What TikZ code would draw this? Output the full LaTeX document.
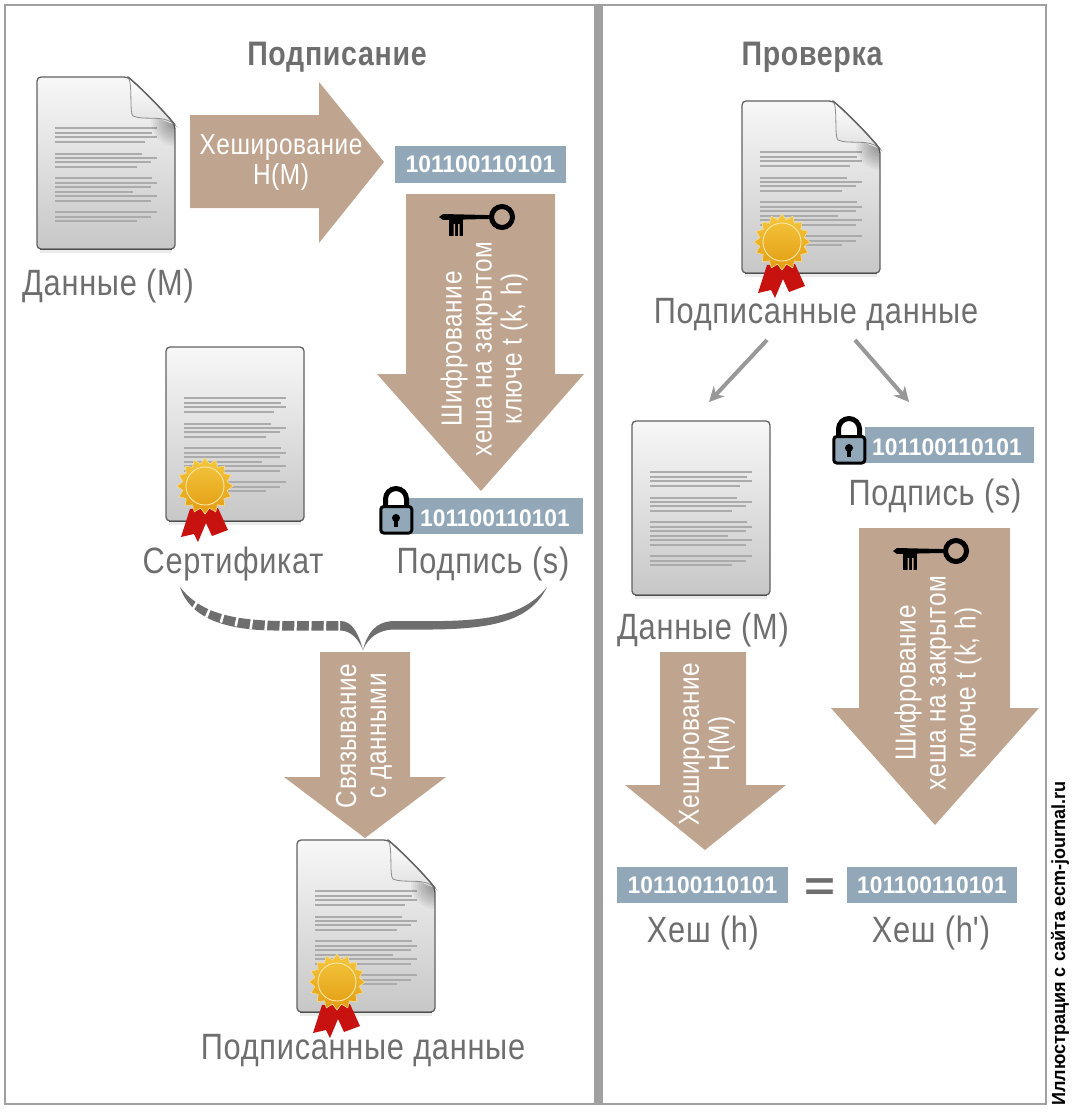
\documentclass[tikz,border=0pt]{standalone}
\usepackage{fontspec}
\setmainfont[FakeStretch=0.84,LetterSpace=2]{Liberation Sans}
\newfontfamily\digitfont[FakeStretch=0.95]{Liberation Sans}
\newfontfamily\sidefont[FakeStretch=0.95]{Liberation Sans}
\usepackage{tikz}
\usetikzlibrary{shapes.geometric,arrows.meta}
\definecolor{ink}{HTML}{6E6E6E}
\definecolor{tan}{HTML}{BFA58F}
\definecolor{slate}{HTML}{92A8B8}
\definecolor{frame}{HTML}{A0A0A0}
\definecolor{goldtop}{HTML}{F4C73E}
\definecolor{goldlow}{HTML}{E29C12}
\definecolor{ribbon}{HTML}{C8120F}
\tikzstyle{caption}=[text=ink,font=\fontsize{36.6}{40}\selectfont,inner sep=0pt]
\tikzstyle{heading}=[text=ink,font=\fontsize{34}{38}\selectfont\bfseries,inner sep=0pt]
\tikzstyle{inarrow}=[text=white,font=\fontsize{29}{30}\selectfont,align=center,inner sep=0pt]
\tikzstyle{bigarrow}=[fill=tan]
\tikzstyle{hash}=[fill=slate,text=white,font=\fontsize{24}{24}\digitfont\bfseries,inner sep=0pt,minimum height=37pt]
\tikzstyle{hashtext}=[text=white,font=\fontsize{24}{24}\digitfont\bfseries,inner sep=0pt]
\tikzstyle{textline}=[draw=black!33,line width=1.1pt]
\tikzstyle{split}=[draw=frame!95!black,line width=4pt,-{Stealth[length=15pt,width=15pt]}]

% body lines of a sheet
\newcommand{\sheetlines}{
	\foreach \ly/\lx in {51/120,56/115,60/120,65/108,77/105,81/120,85/114,90/100,101/115,106/120,110/114,115/96,119/120,124/114,135/120,140/114,144/100}
		\draw[textline] (18,\ly) -- (\lx,\ly);
}
\newcommand{\foldsheet}[2]{
	\begin{scope}[shift={(#1,#2)}]
		\fill[black!8] (3,160) rectangle (135,176);
		\shade[top color=black!3,bottom color=black!22,draw=black!62,line width=1.3pt,rounded corners=4pt]
			(0,0) -- (91,0) .. controls (105,12) and (125,32) .. (138,48) -- (138,172) -- (0,172) -- cycle;
		\sheetlines
		\begin{scope}
			\clip (95,30) -- (137.5,48) -- (137.5,90) -- (95,90) -- cycle;
			\foreach \rr in {2,4,...,24}
				\fill[black,opacity=.035] (138,45) circle (\rr);
		\end{scope}
		\shade[top color=white,bottom color=black!12,draw=black!45,line width=0.8pt] (91,0) .. controls (96,6) and (92,36) .. (96,39) .. controls (106,44) and (128,37) .. (138,48) .. controls (125,32) and (105,12) .. (91,0) -- cycle;
		\draw[black!62,line width=1.3pt] (91,0) .. controls (105,12) and (125,32) .. (138,48);
		\draw[black!70,line width=1.6pt] (3,172.5) -- (135,172.5);
	\end{scope}
}
\newcommand{\plainsheet}[2]{
	\begin{scope}[shift={(#1,#2)}]
		\fill[black!8] (3,160) rectangle (135,178);
		\shade[top color=black!3,bottom color=black!22,draw=black!62,line width=1.3pt,rounded corners=4pt]
			(0,0) rectangle (138,174);
		\draw[black!70,line width=1.6pt] (3,174.5) -- (135,174.5);
		\sheetlines
	\end{scope}
}
\newcommand{\seal}[3]{
	\begin{scope}[shift={(#1,#2)}]
		\fill[ribbon] (-15,23) -- (-24,51) -- (-11,48) -- (-7,56) -- (1,37) -- (7,50) -- (23,44) -- (13,22) -- cycle;
		\node[star,star points=16,star point ratio=1.24,minimum size=56pt,inner sep=0pt,draw=white!40!goldtop,line width=0.6pt,top color=goldtop,bottom color=goldlow] (#3) at (0,0) {};
		\draw[goldtop!45!white,line width=0.9pt] (0,0) circle (19);
	\end{scope}
}
\newcommand{\keyicon}[2]{
	\begin{scope}[shift={(#1,#2)}]
		\draw[line width=5pt] (0,0) circle (10.5);
		\fill (-63,0) -- (-59,-3) -- (-16,-2) -- (-11,-2) -- (-11,2) -- (-16,2) -- (-59,3) -- cycle;
		\fill (-53,0) rectangle (-39,19);
		\fill[tan] (-48.5,7) rectangle (-47,19) (-44,7) rectangle (-42.5,19);
	\end{scope}
}
\newcommand{\lockicon}[2]{
	\begin{scope}[shift={(#1,#2)}]
		\draw[line width=5pt] (7.5,21) -- (7.5,13) arc[start angle=180,end angle=360,radius=10.5] -- (28.5,21);
		\filldraw[fill=slate,draw=black,line width=3pt,rounded corners=3pt] (2.8,20.5) rectangle (33.8,47);
		\fill (18,32) circle (4);
		\fill (16.4,33) rectangle (19.6,41);
	\end{scope}
}

\begin{document}
\begin{tikzpicture}[x=1pt,y=-1pt]
	\useasboundingbox (0,0) rectangle (1081,1112);
	\draw[frame,line width=1.6pt] (5,5) rectangle (1046,1104);
	\fill[frame] (594,5) rectangle (603,1104);

	\node[heading] (sign) at (337,57) {Подписание};
	\node[heading] (verify) at (812,57) {Проверка};

	% left panel
	\foldsheet{37}{77}
	\node[caption] (dataL) at (108,286) {Данные (М)};
	\fill[bigarrow] (190,115) -- (319,115) -- (319,82) -- (384,162) -- (319,243) -- (319,208) -- (190,208) -- cycle;
	\node[inarrow] (hashL) at (281,163) {Хеширование\\H(M)};
	\node[hash,minimum width=171pt] (h1) at (480.5,164.5) {101100110101};
	\fill[bigarrow] (406,194) -- (555,194) -- (555,374) -- (584,374) -- (481,491) -- (377,374) -- (406,374) -- cycle;
	\keyicon{502}{217}
	\node[inarrow,rotate=90] (encL) at (484,349) {Шифрование\\хеша на закрытом\\ключе t (k, h)};
	\plainsheet{166}{347}
	\seal{205}{486}{sealA}
	\node[caption] (cert) at (233,564) {Сертификат};
	\node[hash,minimum width=175pt,minimum height=36pt] (s1) at (495.5,516) {};
	\lockicon{378}{486}
	\node[hashtext] (s1t) at (495,518) {101100110101};
	\node[caption] (sigL) at (483,564) {Подпись (s)};

	% brace under the two captions
	\fill[ink] (363,650) .. controls (358,632) and (352,621) .. (340,621) -- (280,621) .. controls (225,620) and (198,610) .. (180,587) .. controls (190,618) and (225,631) .. (280,630.5) -- (340,630.5) .. controls (350,630.5) and (358,638) .. (363,650) -- cycle;
	\draw[white,line width=15pt,dash pattern=on 2.5pt off 12.2pt] (195,603) .. controls (225,622) and (270,626) .. (340,626);
	\fill[ink] (363,650) .. controls (367,634) and (375,621) .. (395,621) -- (420,621) .. controls (490,622) and (525,615) .. (547,587) .. controls (530,622) and (490,630) .. (420,629.5) -- (395,629.5) .. controls (378,629.5) and (368,638) .. (363,650) -- cycle;

	\fill[bigarrow] (320,652) -- (410,652) -- (410,777) -- (446,777) -- (365,838) -- (284,777) -- (320,777) -- cycle;
	\node[inarrow,rotate=90] (bind) at (364,736) {Связывание\\с данными};
	\foldsheet{297}{840}
	\seal{337}{982}{sealB}
	\node[caption] (signedL) at (363,1051) {Подписанные данные};

	% right panel
	\foldsheet{742}{101}
	\seal{782}{242}{sealC}
	\node[caption] (signedR) at (816,315) {Подписанные данные};
	\coordinate (forkL) at (767,340);
	\coordinate (forkR) at (855,340);
	\coordinate (toData) at (709,402);
	\coordinate (toSig) at (909,402);
	\draw[split] (forkL) -- (toData);
	\draw[split] (forkR) -- (toSig);
	\plainsheet{632}{421}
	\node[caption] (dataR) at (703,630) {Данные (М)};
	\node[hash,minimum width=169pt,minimum height=36pt] (s2) at (949.5,445) {};
	\lockicon{831}{416}
	\node[hashtext] (s2t) at (947,447) {101100110101};
	\node[caption] (sigR) at (935,496) {Подпись (s)};
	\fill[bigarrow] (859,528) -- (1010,528) -- (1010,708) -- (1039,708) -- (935,825) -- (831,708) -- (859,708) -- cycle;
	\keyicon{956}{551}
	\node[inarrow,rotate=90] (encR) at (938,683) {Шифрование\\хеша на закрытом\\ключе t (k, h)};
	\fill[bigarrow] (660,652) -- (746,652) -- (746,785) -- (786,785) -- (705,850) -- (625,785) -- (660,785) -- cycle;
	\node[inarrow,rotate=90] (hashR) at (707,744) {Хеширование\\H(M)};
	\node[hash,minimum width=171pt,minimum height=36pt] (h2) at (702.5,885) {101100110101};
	\node[hash,minimum width=170pt,minimum height=36pt] (h3) at (932,885) {101100110101};
	\node[text=ink,font=\fontsize{42}{42}\digitfont\bfseries,inner sep=0pt] (eq) at (820,889.5) {\scalebox{1.33}[1]{=}};
	\node[caption] (hL) at (703,933) {Хеш (h)};
	\node[caption] (hR) at (931,933) {Хеш (h\textquotesingle)};

	\node[rotate=90,text=black,font=\fontsize{19}{19}\sidefont\bfseries,inner sep=0pt] (credit) at (1060,943.5) {Иллюстрация с сайта ecm-journal.ru};
\end{tikzpicture}
\end{document}
